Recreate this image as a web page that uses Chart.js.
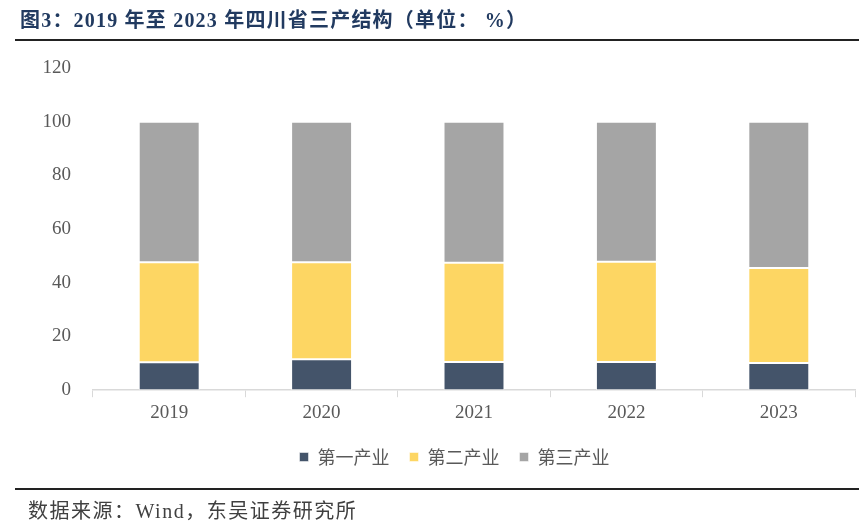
<!DOCTYPE html>
<html>
<head>
<meta charset="utf-8">
<script src="https://cdn.jsdelivr.net/npm/chart.js@4"></script>
<style>
  body { margin: 0; background: #fff; }
  #page { position: relative; width: 859px; height: 528px; overflow: hidden; }
  #title {
    position: absolute; left: 20px; top: 4px;
    font-family: "Liberation Serif", "Noto Sans CJK SC", serif;
    font-weight: bold; font-size: 20px; letter-spacing: 1.2px; color: #213a60; white-space: nowrap;
  }
  .rule { position: absolute; left: 15px; width: 844px; height: 2px; background: #222; }
  #source {
    position: absolute; left: 28px; top: 495px;
    font-family: "Liberation Serif", "Noto Sans CJK SC", serif;
    font-size: 20px; letter-spacing: 1.5px; color: #404040; white-space: nowrap;
  }
  #chartBox { position: absolute; left: 0; top: 0; width: 859px; height: 528px; }
</style>
</head>
<body>
<div id="page">
  <div id="chartBox"><canvas id="chart"></canvas></div>
  <div id="title">图3：2019 年至 2023 年四川省三产结构（单位： %）</div>
  <div class="rule" style="top:39px"></div>
  <div class="rule" style="top:488px"></div>
  <div id="source">数据来源：Wind，东吴证券研究所</div>
</div>
<script>
// categories and values (%)
const years = ['2019', '2020', '2021', '2022', '2023'];
const primary = [10.4, 11.5, 10.5, 10.5, 10.1];
const secondary = [37.3, 36.2, 37.0, 37.3, 35.4];
const tertiary = [52.3, 52.3, 52.5, 52.2, 54.5];
const seriesNames = ['第一产业', '第二产业', '第三产业'];

const colors = ['#44546a', '#fdd663', '#a5a5a5'];
const numFont = '"Liberation Serif", serif';

const datasets = [primary, secondary, tertiary].map((vals, i) => ({
  label: seriesNames[i],
  data: vals,
  backgroundColor: colors[i],
  borderColor: 'rgba(255,255,255,0.5)',
  borderWidth: 1,
  borderSkipped: false,
  barPercentage: 0.4,
  categoryPercentage: 1,
}));

// legend in the original sits a bit right of centre
const legendShift = {
  id: 'legendShift',
  afterLayout(chart) {
    chart.legend.left += 27;
    chart.legend.right += 27;
  },
};

new Chart(document.getElementById('chart'), {
  type: 'bar',
  data: { labels: years, datasets: datasets },
  plugins: [legendShift],
  options: {
    responsive: true,
    maintainAspectRatio: false,
    animation: false,
    layout: { padding: { top: 68, right: 4, bottom: 52, left: 0 } },
    plugins: {
      tooltip: { enabled: false },
      legend: {
        position: 'bottom',
        labels: {
          boxWidth: 9,
          boxHeight: 9,
          padding: 20,
          color: '#595959',
          font: { family: '"Noto Sans CJK SC", sans-serif', size: 18 },
        },
      },
    },
    scales: {
      x: {
        stacked: true,
        grid: {
          offset: true,
          drawOnChartArea: false,
          drawTicks: true,
          tickLength: 7,
          color: '#d9d9d9',
        },
        border: { display: true, color: '#d9d9d9', width: 1.5 },
        ticks: { color: '#595959', font: { family: numFont, size: 19 }, padding: 4 },
      },
      y: {
        stacked: true,
        min: 0,
        max: 120,
        grid: { display: false, drawTicks: false },
        border: { display: false },
        ticks: {
          stepSize: 20,
          color: '#595959',
          padding: 22,
          font: { family: numFont, size: 19 },
        },
        afterFit: (scale) => { scale.width = 93; },
      },
    },
  },
});
</script>
</body>
</html>
